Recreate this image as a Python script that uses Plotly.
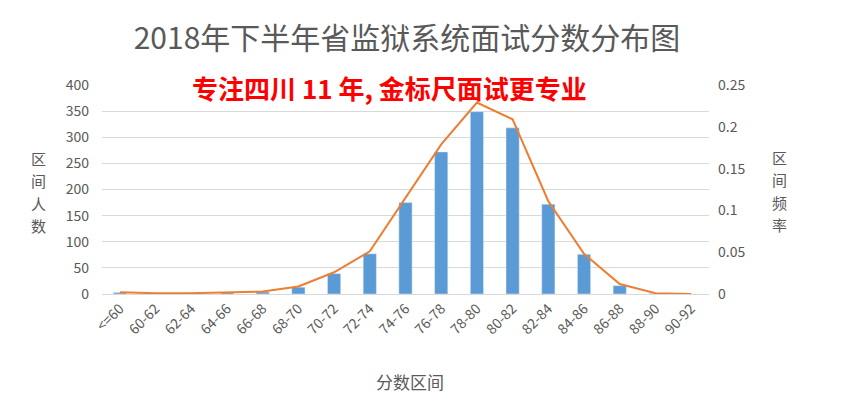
import plotly.graph_objects as go

categories = ["<=60", "60-62", "62-64", "64-66", "66-68", "68-70", "70-72", "72-74",
              "74-76", "76-78", "78-80", "80-82", "82-84", "84-86", "86-88", "88-90", "90-92"]
counts = [3, 1, 2, 3, 4, 13, 39, 77, 175, 272, 349, 318, 172, 76, 16, 1, 0]
freqs = [0.002, 0.001, 0.001, 0.002, 0.003, 0.009, 0.026, 0.051, 0.115, 0.179,
         0.229, 0.209, 0.111, 0.048, 0.012, 0.001, 0.0]
left_ticks = [0, 50, 100, 150, 200, 250, 300, 350, 400]
right_ticks = [0, 0.05, 0.1, 0.15, 0.2, 0.25]
right_tick_text = ["0", "0.05", "0.1", "0.15", "0.2", "0.25"]

FONT = "Noto Sans CJK SC, Open Sans, sans-serif"
GRAY = "#595959"

OFF = 8  # default page body margin
W, H = 844 - OFF, 415 - OFF
pl, pr, pt, pb = 102, 709, 85, 294  # plot area in window pixels

fig = go.Figure()
fig.add_trace(go.Bar(x=categories, y=counts, marker_color="#5B9BD5", name="区间人数",
                     yaxis="y"))
fig.add_trace(go.Scatter(x=categories, y=freqs, mode="lines", name="区间频率",
                         line=dict(color="#ED7D31", width=2), yaxis="y2"))


def ann(text, x, y, size, color=GRAY, bold=False):
    return dict(text=text, x=(x - pl) / (pr - pl), y=(pb - y) / (pb - pt),
                xref="paper", yref="paper", xanchor="center", yanchor="middle",
                showarrow=False,
                font=dict(size=size, color=color, family=FONT,
                          weight="bold" if bold else "normal"))


annotations = [
    ann("专注四川 11 年, 金标尺面试更专业", 389, 88, 26, "#FF0000", True),
    ann("分数区间", 410, 381, 17),
]
for i, ch in enumerate("区间人数"):
    annotations.append(ann(ch, 38, 158 + i * 22.5, 15))
for i, ch in enumerate("区间频率"):
    annotations.append(ann(ch, 779, 157 + i * 22.5, 15))

fig.update_layout(
    width=W, height=H,
    margin=dict(l=pl - OFF, r=844 - pr, t=pt - OFF, b=415 - pb, autoexpand=False),
    paper_bgcolor="white", plot_bgcolor="white",
    showlegend=False,
    bargap=0.63,
    font=dict(family=FONT, color=GRAY),
    title=dict(text="2018年下半年省监狱系统面试分数分布图", x=(407 - OFF) / W, xanchor="center",
               y=1 - (38 - OFF) / H, yanchor="middle",
               font=dict(size=30, color=GRAY, family=FONT)),
    xaxis=dict(type="category", tickangle=-45, tickfont=dict(size=14, color=GRAY),
               showgrid=False, showline=True, linecolor="#D9D9D9", linewidth=1,
               ticks="", automargin=False),
    yaxis=dict(range=[0, 400], tickvals=left_ticks, tickfont=dict(size=14, color=GRAY),
               showgrid=True, gridcolor="#D9D9D9", zeroline=False, ticks="",
               ticklabelstandoff=12, automargin=False),
    yaxis2=dict(range=[0, 0.25], tickvals=right_ticks, ticktext=right_tick_text,
                overlaying="y", side="right", showgrid=False, zeroline=False,
                tickfont=dict(size=14, color=GRAY), ticks="", ticklabelstandoff=8,
                automargin=False),
    annotations=annotations,
)

fig.write_html("out.html")
